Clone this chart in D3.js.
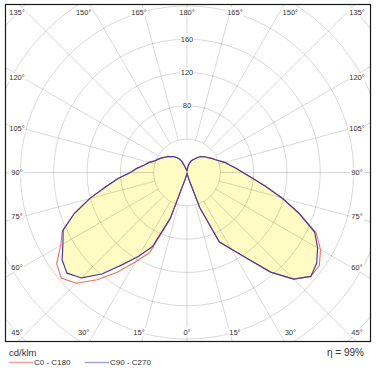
<!DOCTYPE html>
<html lang="en">
<head>
<meta charset="utf-8">
<title>Light distribution</title>
<script src="https://d3js.org/d3.v7.min.js"></script>
<style>
  body { margin: 0; background: #fff; }
  text { font-family: "Liberation Sans", Arial, sans-serif; fill: #333; }
</style>
</head>
<body>
<svg id="chart" width="377" height="371"></svg>
<script>
// gamma angles (deg from nadir) and intensities in cd/klm
var gamma = [0,5,10,15,20,25,30,35,40,45,50,55,60,65,70,75,80,85,90,95,100,105,110,115,120,125,130,135,140,145,150,155,160,165,170,175,180];
var c0   = [0,1,3,8,45,92,106,126,156,181,194,194,185,171,143,118,96,79,67,59,52,47,41,37,34,31,29,27,25,22,19,17,15,12,8,4,2];
var c180 = [0,1,3,8,60,106,124,146,168,188,197,191,175,165,144,121,99,83,68,60,52,47,41,38,35,32,30,27,25,22,19,15,8,5,3,2,2];
var c90  = [0,1,3,8,45,92,106,126,156,181,194,190,181,169,143,118,96,79,67,59,52,47,41,37,34,31,29,27,25,22,19,17,15,12,8,4,2];
var c270 = [0,1,3,8,58,98,116,135,159,179,188,183,172,164,144,121,99,83,68,60,52,47,41,38,35,32,30,27,25,22,19,15,8,5,3,2,2];

var ringValues = [40,80,120,160,200,240,280];
var ringLabels = [80,120,160];
var angleTicks = [0,15,30,45,60,75,90,105,120,135,150,165,180];
var seriesNames = ["C0 - C180", "C90 - C270"];
var unitLabel = "cd/klm";
var efficiency = "\u03b7 = 99%";

var svg = d3.select("#chart"),
    cx = 187, cy = 172.5,
    rad = Math.PI / 180;

var r = d3.scaleLinear().domain([0, 280]).range([0, 233.3]);

svg.append("clipPath").attr("id", "clip")
  .append("rect").attr("x", 5.5).attr("y", 4.5).attr("width", 365).attr("height", 337);

var plot = svg.append("g").attr("clip-path", "url(#clip)")
  .append("g").attr("transform", "translate(" + cx + "," + cy + ")");

// build a closed outline: right half (first series) then left half (second) back
function outline(rightVals, leftVals) {
  var pts = gamma.map(function (g, i) { return [Math.PI - g * rad, rightVals[i]]; });
  for (var i = gamma.length - 1; i >= 0; i--) pts.push([Math.PI + gamma[i] * rad, leftVals[i]]);
  return pts;
}

var radial = d3.lineRadial()
  .angle(function (d) { return d[0]; })
  .radius(function (d) { return r(d[1]); })
  .curve(d3.curveLinearClosed);

// yellow fill of the C90 - C270 plane
plot.append("path")
  .attr("d", radial(outline(c90, c270)))
  .style("fill", "#fffbc2")
  .style("stroke", "none");

// grid
plot.selectAll(".ring")
  .data(ringValues)
  .enter().append("circle")
  .attr("class", "ring")
  .attr("r", function (d) { return r(d); })
  .style("fill", "none")
  .style("stroke", "rgba(0,0,0,0.15)")
  .style("stroke-width", 1);

plot.selectAll(".spoke")
  .data(d3.range(0, 360, 15))
  .enter().append("line")
  .attr("class", "spoke")
  .attr("x1", function (d) { return r(40) * Math.sin(d * rad); })
  .attr("y1", function (d) { return r(40) * Math.cos(d * rad); })
  .attr("x2", function (d) { return 320 * Math.sin(d * rad); })
  .attr("y2", function (d) { return 320 * Math.cos(d * rad); })
  .style("stroke", "rgba(0,0,0,0.15)")
  .style("stroke-width", 1);

// curves
plot.append("path")
  .attr("d", radial(outline(c0, c180)))
  .style("fill", "none")
  .style("stroke", "#e8735e")
  .style("stroke-width", 1.1);

plot.append("path")
  .attr("d", radial(outline(c90, c270)))
  .style("fill", "none")
  .style("stroke", "#4c3c98")
  .style("stroke-width", 1.2);

// labels with white backing
function label(x, y, txt, size) {
  var g = svg.append("g");
  var bg = g.append("rect").style("fill", "#fff");
  var t = g.append("text")
    .attr("x", x).attr("y", y)
    .attr("text-anchor", "middle")
    .attr("dominant-baseline", "central")
    .style("font-size", size + "px")
    .text(txt);
  var b = t.node().getBBox();
  bg.attr("x", b.x - 1).attr("y", b.y).attr("width", b.width + 2).attr("height", b.height);
}

ringLabels.forEach(function (v) {
  label(cx, cy - r(v), v, 7.5);
});

var hx = 165, hy = 179;
var ticks = [];
angleTicks.forEach(function (a) {
  ticks.push([a, -1]);
  if (a > 0 && a < 180) ticks.push([a, 1]);
});
ticks.forEach(function (d) {
  var a = d[0] * rad,
      dx = d[1] * Math.sin(a), dy = Math.cos(a),
      t = Math.min(Math.abs(dx) > 1e-6 ? hx / Math.abs(dx) : Infinity,
                   Math.abs(dy) > 1e-6 ? hy / Math.abs(dy) : Infinity),
      x, y;
  if (Math.abs(dx) > 1e-6 && t === hx / Math.abs(dx)) {
    x = cx + d[1] * 170;
    y = Math.max(12, Math.min(332, cy + t * dy));
  } else {
    x = cx + t * dx;
    y = dy < 0 ? 12 : 332;
  }
  label(x, y, d[0] + "\u00b0", 7.5);
});

// frame
svg.append("rect")
  .attr("x", 5.5).attr("y", 4.5).attr("width", 365).attr("height", 337)
  .style("fill", "none")
  .style("stroke", "#1a1a1a")
  .style("stroke-width", 1.2);

// legend
svg.append("text").attr("x", 9).attr("y", 355.5)
  .style("font-size", "9.5px").text(unitLabel);

svg.append("text").attr("x", 364).attr("y", 356)
  .attr("text-anchor", "end")
  .style("font-size", "10px").text(efficiency);

var legendColors = ["#e8a49a", "#a8a2d0"];
var legendX = [9, 85];
seriesNames.forEach(function (name, i) {
  svg.append("line")
    .attr("x1", legendX[i]).attr("x2", legendX[i] + 24)
    .attr("y1", 362.5).attr("y2", 362.5)
    .style("stroke", legendColors[i])
    .style("stroke-width", 1.5);
  svg.append("text")
    .attr("x", legendX[i] + 25).attr("y", 365.3)
    .style("font-size", "8px").text(name);
});
</script>
</body>
</html>
